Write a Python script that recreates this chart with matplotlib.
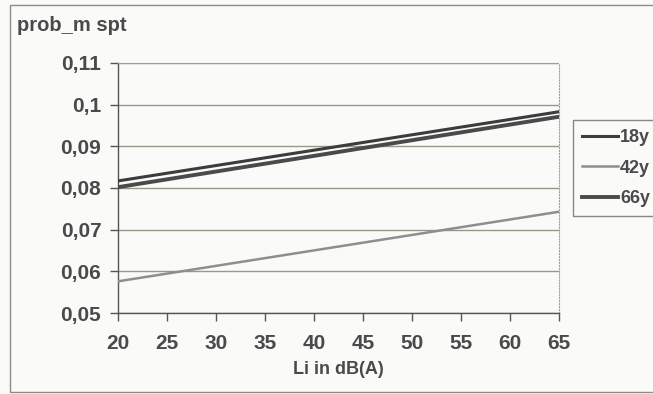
import matplotlib.pyplot as plt
from matplotlib.patches import Rectangle
from matplotlib.ticker import FuncFormatter, MultipleLocator

plt.rcParams['font.family'] = ['Liberation Sans', 'DejaVu Sans']
plt.rcParams['font.weight'] = 'bold'

li = [20, 65]
p18 = [0.0817, 0.0983]
p42 = [0.0576, 0.0743]
p66 = [0.0802, 0.0971]
series = ['18y', '42y', '66y']

txt = '#4a4a4a'
fig = plt.figure(figsize=(6.53, 3.94), dpi=100)
fig.patch.set_facecolor('#fafaf8')

# outer chart frame
fig.patches.append(Rectangle((10 / 653, 2 / 394), 660 / 653, 387 / 394,
                             transform=fig.transFigure, fill=False,
                             edgecolor='#8c8c8c', linewidth=1.0))

ax = fig.add_axes([118 / 653, 1 - 313 / 394, (559 - 118) / 653, (313 - 63) / 394])
ax.set_facecolor('#fafaf8')

ax.plot(li, p42, color='#8e8e8e', linewidth=1.8, label=series[1], zorder=3)
ax.plot(li, p18, color='#3c3c3c', linewidth=2.2, label=series[0], zorder=3)
ax.plot(li, p66, color='#4a4a4a', linewidth=2.8, label=series[2], zorder=3)

ax.set_xlim(20, 65)
ax.set_ylim(0.05, 0.11)
ax.xaxis.set_major_locator(MultipleLocator(5))
ax.yaxis.set_major_locator(MultipleLocator(0.01))
ax.yaxis.set_major_formatter(FuncFormatter(lambda v, _: f"{round(v, 2):g}".replace('.', ',')))

ax.grid(axis='y', color='#8f9c88', linewidth=1.0)
ax.set_axisbelow(True)
for s in ['top', 'right']:
    ax.spines[s].set_color('#a0a0a0')
    ax.spines[s].set_linestyle(':')
for s in ['left', 'bottom']:
    ax.spines[s].set_color('#555555')
    ax.spines[s].set_linewidth(1.0)

ax.tick_params(axis='both', direction='out', length=6, width=1, color='#555555',
               labelcolor=txt, labelsize=15)
ax.tick_params(axis='x', pad=9)
ax.tick_params(axis='y', pad=6)

ax.set_xlabel('Li in dB(A)', fontsize=13, color=txt, fontweight='bold', labelpad=6)
fig.text(17 / 653, 1 - 31 / 394, 'prob_m spt', fontsize=14.5, color=txt, fontweight='bold')

handles, labels = ax.get_legend_handles_labels()
order = [1, 0, 2]
leg = fig.legend([handles[i] for i in order], [labels[i] for i in order],
                 loc='upper left', bbox_to_anchor=(573 / 653, 1 - 120 / 394),
                 frameon=True, fontsize=13, handlelength=2.0, handletextpad=0.1,
                 labelspacing=0.75, borderpad=0.5, borderaxespad=0.0, fancybox=False)
leg.get_frame().set_edgecolor('#6a6a6a')
leg.get_frame().set_facecolor('#fafaf8')
leg.get_frame().set_linewidth(1.0)
for t in leg.get_texts():
    t.set_color(txt)

fig.savefig('out.png', dpi=100, facecolor=fig.get_facecolor())
